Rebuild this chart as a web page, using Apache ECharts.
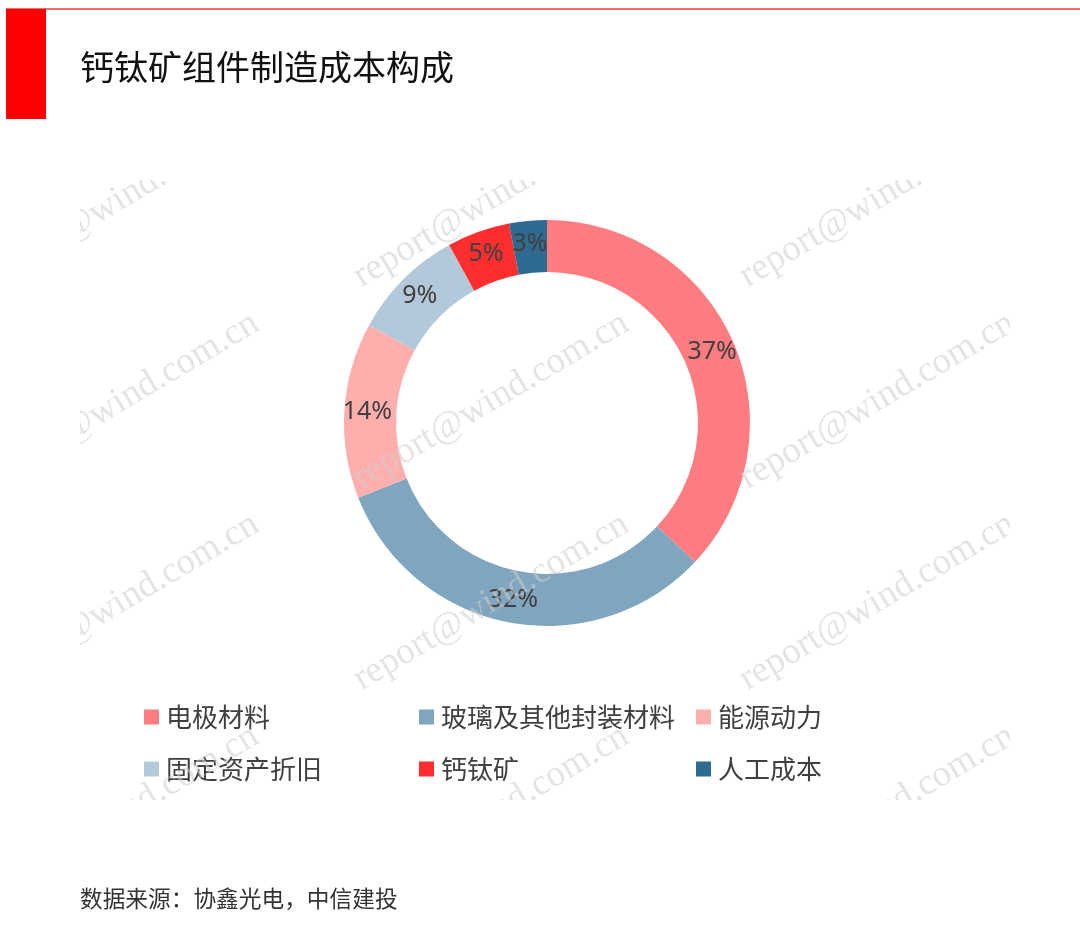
<!DOCTYPE html>
<html><head><meta charset="utf-8">
<script src="https://cdn.jsdelivr.net/npm/echarts@6/dist/echarts.min.js"></script>
<style>html,body{margin:0;padding:0;background:#fff}#c{width:1080px;height:931px}</style>
</head><body><div id="c"></div>
<script>
const categories = ['电极材料','玻璃及其他封装材料','能源动力','固定资产折旧','钙钛矿','人工成本'];
const values = [37, 32, 14, 9, 5, 3];
const colors = ['#FF7C80','#7FA5BF','#FFAEAE','#B3C8D8','#FF2E2E','#2F6A91'];
const titleText = '钙钛矿组件制造成本构成';
const sourceText = '数据来源：协鑫光电，中信建投';
const watermarkText = 'report@wind.com.cn';

const cjk = '"Noto Sans CJK SC","Noto Sans",sans-serif';
const chart = echarts.init(document.getElementById('c'), null, {renderer: 'canvas'});

// legend grid layout (3 columns x 2 rows)
const legCols = [144, 419, 696];
const legRows = [717, 769];
const legends = categories.map((name, i) => ({
  data: [name],
  left: legCols[i % 3],
  top: legRows[Math.floor(i / 3)] - 15,
  padding: 0,
  icon: 'rect',
  itemWidth: 15,
  itemHeight: 15,
  selectedMode: false,
  textStyle: {fontFamily: cjk, fontSize: 26, color: '#404040', lineHeight: 30, padding: [0, 0, 0, 2]}
}));

chart.setOption({
  animation: false,
  backgroundColor: '#ffffff',
  color: colors,
  title: {
    text: titleText, left: 80, top: 47, padding: 0,
    textStyle: {fontFamily: cjk, fontSize: 34, fontWeight: 'normal', color: '#111111', lineHeight: 40}
  },
  legend: legends,
  graphic: [
    {type: 'line', z: 5, shape: {x1: 6, y1: 9, x2: 1080, y2: 9}, style: {stroke: '#F03C3C', lineWidth: 1.5}},
    {type: 'rect', z: 5, shape: {x: 6, y: 9, width: 40, height: 110}, style: {fill: '#FF0000'}},
    {type: 'text', z: 5, x: 80, y: 898, style: {text: sourceText, fontFamily: cjk, fontSize: 22.7, fill: '#333333', verticalAlign: 'middle'}}
  ],
  series: [{
    type: 'pie',
    z: 2,
    center: [547, 423],
    radius: [151, 203],
    startAngle: 90,
    clockwise: true,
    silent: true,
    avoidLabelOverlap: false,
    label: {show: true, position: 'inside', formatter: '{c}%', fontFamily: '"Noto Sans",sans-serif', fontSize: 25, color: '#404040'},
    labelLine: {show: false},
    itemStyle: {borderWidth: 0},
    emphasis: {disabled: true},
    data: categories.map((n, i) => ({name: n, value: values[i]}))
  }]
});

// watermark overlay, clipped to the chart body region
const zr = chart.getZr();
const wmGroup = new echarts.graphic.Group({silent: true});
wmGroup.setClipPath(new echarts.graphic.Rect({shape: {x: 80, y: 180, width: 930, height: 620}}));
const wmX = [-4, 366, 752], wmY = [295, 497, 698, 910];
wmX.forEach(x => wmY.forEach(y => {
  wmGroup.add(new echarts.graphic.Text({
    x: x, y: y, rotation: 30.8 * Math.PI / 180, z: 100, silent: true,
    style: {text: watermarkText, fontFamily: '"Liberation Serif","DejaVu Serif",serif', fontSize: 37,
            fill: 'rgba(205,205,205,0.55)', verticalAlign: 'bottom', align: 'left'}
  }));
}));
zr.add(wmGroup);
</script></body></html>
